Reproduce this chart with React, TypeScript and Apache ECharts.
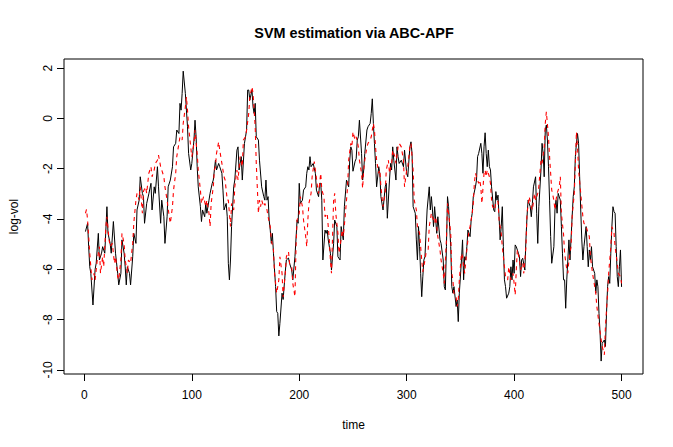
import React, { useEffect, useRef } from "react";
import * as echarts from "echarts";

// true log-volatility (black solid line): [time, value]
const trueSeries: [number, number][] = [
  [1,-4.5],[3,-4.17],[4,-5.1],[5,-5.9],[6,-6.16],[8,-7.42],[10,-6.0],[11,-5.76],[13,-4.57],[14,-5.63],[16,-5.36],[17,-5.1],[19,-5.36],[21,-3.51],[22,-4.57],[24,-4.97],[25,-5.36],[27,-4.1],[29,-5.36],[31,-6.16],[32,-6.62],[34,-6.16],[35,-4.83],[37,-5.36],[38,-5.9],[39,-6.62],[40,-5.9],[42,-6.16],[43,-6.62],[45,-5.5],[46,-4.57],[48,-4.97],[49,-3.64],[51,-3.25],[52,-2.32],[54,-2.98],[55,-3.11],[56,-4.17],[58,-3.38],[60,-3.0],
  [62,-2.58],[63,-3.64],[65,-2.72],[66,-2.98],[68,-1.92],[69,-2.72],[71,-4.17],[72,-3.25],[74,-3.91],[75,-4.97],[77,-3.91],[78,-2.72],[80,-2.45],[82,-1.92],[83,-1.13],[85,-0.99],[86,-0.46],[88,-0.6],[89,0.6],[90,0.33],[91,0.99],[92,1.88],[94,0.99],[95,0.33],[96,-0.33],[97,-1.39],[99,-2.05],[100,-1.79],[102,-0.86],[103,-0.07],[104,-0.73],[105,-1.92],[106,-2.72],[108,-3.51],[109,-4.1],[110,-3.64],[112,-3.91],[113,-3.38],[114,-3.77],[116,-3.25],[117,-2.98],[119,-2.58],[120,-2.45],
  [122,-1.66],[123,-2.05],[125,-1.79],[126,-1.92],[128,-2.18],[129,-2.85],[130,-3.64],[132,-3.38],[133,-3.91],[134,-5.76],[135,-6.42],[136,-5.63],[137,-4.3],[139,-2.72],[140,-2.45],[142,-1.26],[143,-1.13],[144,-2.05],[145,-1.79],[146,-1.52],[147,-2.45],[149,-0.99],[150,-0.73],[151,-0.46],[152,1.13],[153,1.13],[154,0.73],[156,1.13],[157,0.46],[158,0.2],[159,0.6],[160,-0.73],[162,-0.86],[163,-1.66],[165,-2.72],[167,-3.11],[168,-3.25],[169,-2.45],[170,-3.25],[171,-3.11],[172,-4.04],[173,-4.44],[174,-4.97],[175,-4.57],[176,-5.36],[178,-6.69],[179,-7.68],[180,-7.75],[181,-8.65],[182,-8.15],[184,-6.95],[185,-7.2],[187,-6.1],[188,-5.63],[190,-5.55],
  [191,-5.76],[193,-6.03],[194,-6.42],[196,-5.5],[198,-4.04],[199,-4.17],[200,-2.58],[201,-3.38],[203,-3.25],[204,-2.85],[206,-2.72],[207,-2.18],[208,-1.92],[209,-2.05],[210,-1.52],[211,-1.92],[213,-1.79],[215,-2.18],[216,-2.85],[218,-3.11],[219,-2.58],[220,-2.58],[221,-3.25],[222,-5.63],[224,-4.44],[225,-4.57],[226,-4.44],[227,-4.83],[229,-5.36],[230,-6.03],[232,-4.97],[233,-4.04],[235,-4.3],[236,-5.5],[238,-5.63],[239,-4.3],[241,-4.83],[242,-3.51],[244,-2.45],[246,-2.72],[247,-1.66],[248,-1.13],[249,-1.26],[250,-2.1],[252,-1.7],[253,-1.6],
  [254,-0.86],[255,-0.73],[256,-0.07],[258,-1.39],[259,-2.45],[260,-2.05],[261,-1.39],[263,-0.46],[264,-0.33],[266,-0.2],[267,0.2],[268,0.78],[269,-0.2],[270,-0.99],[271,-1.79],[272,-2.72],[274,-1.92],[275,-2.18],[276,-3.11],[278,-3.64],[280,-2.72],[281,-2.58],[282,-3.97],[284,-2.45],[285,-1.79],[286,-2.05],[287,-1.13],[288,-1.66],[290,-2.45],[291,-1.13],[292,-1.52],[293,-1.79],[295,-1.66],[297,-1.92],[298,-1.26],[300,-2.18],[301,-2.32],[303,-1.13],[304,-0.93],[305,-1.39],[306,-3.51],[308,-3.77],[309,-4.83],[310,-5.63],[311,-4.3],[312,-5.1],[313,-6.16],[314,-7.09],[315,-6.3],[316,-5.63],[317,-5.5],
  [319,-3.64],[321,-2.72],[322,-3.64],[323,-3.11],[324,-3.64],[325,-4.3],[326,-3.51],[328,-4.57],[329,-3.91],[331,-4.83],[332,-4.97],[334,-5.63],[335,-6.69],[336,-6.82],[337,-5.1],[338,-3.11],[339,-3.51],[341,-5.1],[342,-6.69],[343,-6.95],[344,-6.69],[346,-7.48],[347,-7.22],[348,-8.08],[349,-6.95],[351,-5.63],[352,-4.83],[353,-6.42],[354,-5.5],[355,-5.63],[356,-5.1],[357,-4.44],[359,-4.7],[360,-4.04],[361,-3.77],[362,-3.11],[364,-2.72],[365,-2.45],[366,-1.52],[367,-1.39],[369,-0.99],[370,-1.39],[371,-2.18],[372,-1.13],[373,-0.57],[374,-1.39],[375,-1.92],[376,-1.26],[377,-1.92],[378,-2.05],[379,-2.72],[381,-3.64],[382,-3.71],[383,-2.91],[384,-3.25],[385,-3.05],
  [386,-3.91],[387,-4.83],[388,-4.3],[389,-3.51],[390,-5.1],[391,-6.42],[392,-6.69],[393,-7.15],[395,-6.95],[396,-6.69],[397,-5.9],[398,-6.42],[399,-5.63],[400,-6.16],[401,-5.03],[402,-5.1],[404,-5.36],[405,-5.5],[406,-6.29],[407,-5.63],[408,-5.56],[410,-6.03],[411,-4.83],[412,-3.91],[413,-3.25],[415,-3.51],[416,-3.91],[417,-3.38],[418,-2.72],[420,-2.32],[421,-3.77],[422,-4.97],[423,-3.51],[425,-2.05],[426,-0.99],[427,-1.39],[428,-2.32],[429,-0.46],[430,-0.26],[431,-0.86],[432,-1.92],[433,-3.25],[434,-4.7],[435,-5.76],[437,-5.1],[438,-3.64],[439,-3.25],[440,-3.77],[441,-2.98],[443,-3.25],[444,-4.3],[445,-5.36],[446,-6.42],[447,-6.42],[448,-7.55],[449,-6.42],
  [450,-5.63],[451,-4.83],[452,-5.63],[454,-3.91],[455,-3.11],[456,-2.72],[457,-1.52],[458,-0.99],[459,-0.6],[460,-0.99],[461,-2.32],[462,-3.64],[463,-4.83],[464,-5.63],[465,-5.1],[467,-4.3],[468,-5.1],[469,-5.9],[470,-5.23],[471,-5.63],[472,-5.1],[473,-5.9],[475,-6.16],[476,-6.95],[477,-6.42],[478,-6.69],[479,-7.75],[480,-8.54],[481,-9.65],[482,-8.94],[484,-8.81],[485,-9.07],[486,-7.75],[487,-6.69],[488,-6.29],[489,-6.56],[490,-5.36],[491,-4.3],[492,-3.51],[493,-3.71],[494,-3.77],[495,-5.1],[496,-6.29],[497,-6.69],[498,-5.9],[499,-5.23],[500,-6.7]
];

// ABC-APF estimate (red dashed line): [time, value]
const estSeries: [number, number][] = [
  [1,-3.77],[2,-3.62],[3,-4.04],[5,-5.36],[6,-5.9],[7,-6.42],[9,-6.16],[10,-6.42],[12,-5.63],[14,-5.1],[15,-6.16],[17,-5.5],[18,-5.9],[20,-4.3],[21,-3.91],[23,-4.83],[24,-5.1],[26,-4.97],[28,-5.76],[29,-5.5],[31,-6.29],[32,-6.42],[34,-5.63],[35,-4.57],[37,-4.97],[38,-5.63],[40,-6.16],[41,-5.63],[43,-5.76],[45,-4.97],[46,-4.17],[48,-3.25],[49,-2.98],[51,-3.25],[52,-2.72],[54,-3.77],[55,-2.9],[57,-2.72],[58,-2.98],[60,-2.18],
  [62,-1.92],[63,-2.32],[65,-2.05],[66,-1.79],[68,-1.66],[69,-1.46],[71,-1.92],[72,-2.05],[74,-2.32],[75,-2.72],[77,-3.25],[79,-3.91],[80,-4.17],[82,-3.51],[83,-2.85],[85,-2.18],[86,-1.52],[88,-0.99],[89,-0.73],[91,-0.86],[92,-0.2],[94,0.46],[95,0.86],[96,0.33],[97,-0.33],[99,-1.13],[100,-1.52],[102,-0.99],[103,-0.46],[105,-1.39],[106,-2.05],[108,-2.85],[109,-3.38],[111,-3.11],[113,-3.51],[114,-3.25],[116,-3.77],[117,-4.3],[118,-3.38],[120,-2.72],
  [121,-2.05],[122,-1.92],[123,-1.39],[125,-0.93],[126,-1.26],[128,-1.79],[130,-2.32],[131,-2.45],[133,-3.25],[134,-3.25],[136,-4.3],[137,-3.38],[139,-3.64],[140,-2.72],[142,-2.05],[143,-2.45],[145,-1.52],[147,-1.92],[148,-0.86],[150,-0.73],[151,-0.46],[153,0.2],[154,0.86],[156,1.26],[157,0.99],[158,0.33],[159,-0.33],[160,-1.79],[162,-3.77],[163,-3.25],[164,-3.51],[165,-3.25],[167,-3.51],[168,-3.38],[170,-3.64],[171,-3.91],[173,-4.3],[174,-4.83],[176,-5.23],[177,-6.16],[179,-6.95],[181,-6.42],[182,-5.5],[184,-6.16],[185,-7.1],[187,-6.16],[188,-5.5],[190,-5.3],
  [191,-5.76],[193,-5.9],[194,-6.56],[196,-7.09],[197,-5.1],[198,-4.04],[200,-3.77],[201,-3.11],[203,-3.51],[204,-4.04],[206,-4.7],[207,-5.1],[208,-4.04],[209,-3.38],[211,-2.98],[212,-2.32],[214,-1.72],[215,-2.05],[217,-2.72],[218,-2.98],[220,-2.18],[221,-2.85],[223,-3.11],[224,-3.91],[226,-3.77],[228,-4.83],[229,-5.63],[230,-6.16],[232,-3.25],[233,-2.98],[234,-3.77],[236,-4.57],[237,-5.36],[238,-5.1],[240,-4.44],[241,-4.7],[243,-3.77],[245,-2.72],[246,-1.66],[248,-0.99],[249,-1.13],[250,-0.53],[251,-0.7],[252,-0.86],[253,-0.73],[254,-0.9],
  [255,-1.13],[256,-1.66],[258,-2.18],[259,-2.78],[260,-2.05],[261,-1.66],[263,-1.13],[264,-0.99],[266,-0.86],[267,-0.73],[269,-0.2],[270,-0.46],[271,-1.13],[272,-1.66],[274,-2.18],[275,-2.05],[276,-2.72],[278,-3.51],[280,-2.98],[281,-2.05],[283,-1.66],[284,-2.18],[286,-1.79],[287,-1.26],[289,-1.52],[290,-1.79],[292,-1.13],[293,-0.99],[295,-1.13],[297,-1.66],[298,-2.72],[300,-2.05],[301,-1.92],[303,-1.13],[304,-0.99],[306,-2.05],[307,-3.25],[309,-3.64],[310,-4.3],[312,-4.57],[314,-5.63],[315,-6.1],[317,-5.63],[318,-5.36],
  [320,-5.23],[321,-4.3],[323,-3.77],[324,-3.91],[326,-4.17],[327,-3.91],[329,-4.7],[331,-5.23],[332,-5.63],[334,-6.16],[335,-6.56],[337,-4.83],[338,-3.38],[339,-3.77],[341,-4.57],[342,-6.16],[343,-6.42],[344,-6.95],[346,-7.09],[347,-7.48],[348,-7.22],[349,-6.42],[351,-5.36],[352,-5.5],[353,-5.9],[354,-6.16],[356,-5.23],[357,-4.83],[358,-4.44],[359,-4.3],[361,-3.77],[362,-3.38],[363,-2.58],[364,-2.18],[365,-2.32],[367,-2.58],[368,-2.45],[369,-2.72],[370,-3.38],[372,-2.18],[373,-2.05],[374,-2.32],[375,-2.05],[377,-2.32],[378,-2.58],[379,-3.25],[380,-3.51],[382,-3.64],[383,-3.3],[385,-3.3],
  [386,-4.04],[388,-4.57],[389,-5.1],[391,-5.9],[392,-6.29],[394,-6.42],[395,-5.9],[397,-6.42],[399,-6.16],[400,-6.56],[401,-7.02],[402,-6.03],[403,-5.23],[405,-5.63],[406,-6.03],[408,-5.76],[409,-6.16],[411,-5.1],[412,-3.77],[414,-3.11],[416,-3.51],[417,-3.64],[419,-2.98],[420,-3.25],[422,-2.98],[423,-2.72],[425,-1.66],[426,-1.79],[428,-1.13],[429,-0.2],[430,0.26],[432,-0.73],[433,-1.52],[434,-2.18],[435,-2.85],[437,-3.25],[438,-3.64],[439,-3.25],[440,-2.98],[442,-2.72],[443,-2.32],[444,-3.77],[445,-4.2],[446,-4.6],[447,-5.36],[448,-5.7],[449,-6.0],
  [450,-6.16],[451,-5.63],[453,-5.1],[454,-3.91],[456,-2.98],[457,-1.79],[458,-0.53],[459,-1.13],[460,-2.05],[462,-2.98],[464,-3.91],[465,-4.17],[467,-4.3],[468,-4.44],[470,-4.7],[471,-5.5],[473,-6.16],[474,-6.42],[476,-6.95],[477,-7.48],[479,-8.15],[481,-8.81],[482,-9.07],[484,-9.4],[485,-8.28],[487,-6.95],[488,-6.16],[490,-5.1],[491,-4.3],[493,-4.57],[494,-5.1],[496,-5.76],[497,-6.16],[499,-6.29],[500,-6.56]
];

const xTicks = [0, 100, 200, 300, 400, 500];
const yTicks = [-10, -8, -6, -4, -2, 0, 2];

const FONT = "'Liberation Sans', Arial, Helvetica, sans-serif";

export default function App() {
  const ref = useRef<HTMLDivElement>(null);
  useEffect(() => {
    if (!ref.current) return;
    const chart = echarts.init(ref.current, undefined, { renderer: "svg" });
    chart.setOption({
      animation: false,
      backgroundColor: "#ffffff",
      title: {
        text: "SVM estimation via ABC-APF",
        left: 349,
        top: 21,
        textAlign: "center",
        textStyle: { fontSize: 14.4, fontWeight: "bold", color: "#000", fontFamily: FONT },
      },
      grid: {
        left: 59,
        right: 30,
        top: 59,
        bottom: 73,
        show: true,
        borderColor: "#000",
        borderWidth: 1,
        backgroundColor: "transparent",
      },
      xAxis: {
        type: "value",
        min: -18.96,
        max: 519.96,
        name: "time",
        nameLocation: "middle",
        nameGap: 45,
        nameTextStyle: { fontSize: 12, color: "#000", fontFamily: FONT },
        axisLine: { show: false, onZero: false },
        axisTick: {
          show: true,
          inside: false,
          length: 7,
          customValues: xTicks,
          lineStyle: { color: "#000", width: 1 },
        },
        axisLabel: {
          show: true,
          customValues: xTicks,
          margin: 15,
          fontSize: 12,
          color: "#000",
          fontFamily: FONT,
        },
        splitLine: { show: false },
      },
      yAxis: {
        type: "value",
        min: -10.164,
        max: 2.364,
        name: "log-vol",
        nameLocation: "middle",
        nameGap: 44,
        nameRotate: 90,
        nameTextStyle: { fontSize: 12, color: "#000", fontFamily: FONT },
        axisLine: { show: false, onZero: false },
        axisTick: {
          show: true,
          inside: false,
          length: 7,
          customValues: yTicks,
          lineStyle: { color: "#000", width: 1 },
        },
        axisLabel: {
          show: true,
          customValues: yTicks,
          rotate: 90,
          margin: 10,
          fontSize: 12,
          color: "#000",
          fontFamily: FONT,
        },
        splitLine: { show: false },
      },
      series: [
        {
          name: "true",
          type: "line",
          data: trueSeries,
          showSymbol: false,
          symbol: "none",
          lineStyle: { color: "#000000", width: 1 },
          z: 2,
        },
        {
          name: "ABC-APF",
          type: "line",
          data: estSeries,
          showSymbol: false,
          symbol: "none",
          lineStyle: { color: "#ff0000", width: 1.1, type: [4, 4] },
          z: 3,
        },
      ],
    });
    return () => chart.dispose();
  }, []);
  return (
    <div
      ref={ref}
      style={{ position: "fixed", left: 0, top: 0, width: 673, height: 447, background: "#fff" }}
    />
  );
}
